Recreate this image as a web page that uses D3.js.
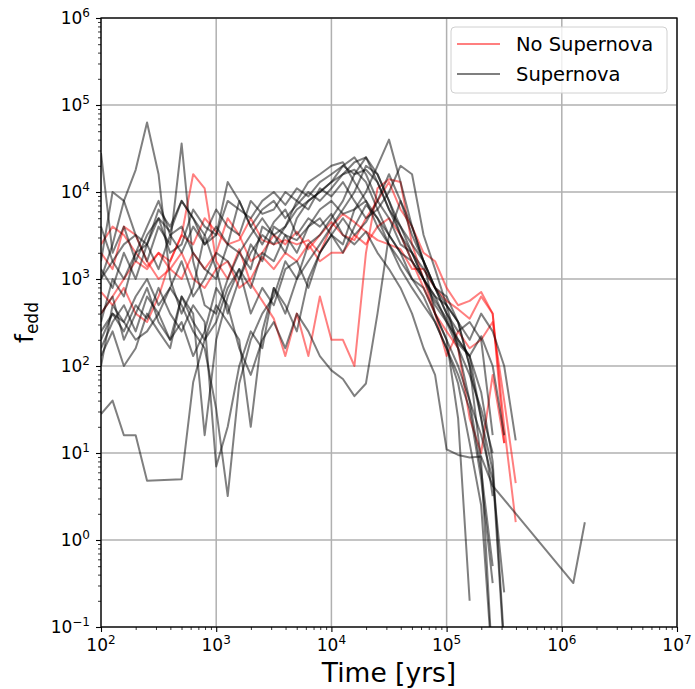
<!DOCTYPE html>
<html>
<head>
<meta charset="utf-8">
<script src="https://cdn.jsdelivr.net/npm/d3@7"></script>
<style>
  body { margin: 0; background: #fff; }
  svg { font-family: "DejaVu Sans", sans-serif; }
</style>
</head>
<body>
<div id="chart-area"></div>
<script>
// shared time grid (yrs)
var times = [100,126,158,200,251,316,398,501,631,794,1000,1259,1585,1995,2512,3162,3981,5012,6310,7943,
  10000,12589,15849,19953,25119,31623,39811,50119,63096,79433,100000,125893,158489,199526,251189,316228,398107,
  1258925,1584893];

// f_edd, runs without supernova (red)
var noSnA = [2500,4000,3200,2000,1400,2000,1600,3200,2500,5000,3500,2500,2800,5000,2800,2500,2800,2500,2800,2000,4000,5600,4500,3500,2800,2500,2200,1300,1300,790,560,450,350,630,400,20,1.6];
var noSnB = [710,500,790,400,320,630,1600,3200,1.6e4,1.1e4,1600,1000,2200,890,560,350,130,400,130,630,200,200,100,2000,1.1e4,1.4e4,1.3e4,2500,1000,400,130,250,160,200,320,40,4.5];
var noSnC = [400,630,1000,1600,1300,2000,1300,1000,2000,1300,2000,5000,3200,1600,2000,3200,2500,3500,2200,3200,4500,3200,2800,5000,7900,1.3e4,6300,4000,2000,1600,790,500,560,710,400,13];
var noSnD = [2000,1300,4000,3200,1600,1000,1300,2000,1000,790,1300,1600,790,1000,1800,1300,2000,1600,2500,1600,2000,2000,3200,2500,4000,5000,3200,1600,790,400,250,160,25,10,79,13];

// f_edd, runs with supernova (black)
var sn1 = [2.8e4,2000,4000,1600,3200,5000,2000,2500,6300,4000,3200,7900,6300,5000,7900,1e4,7100,1.1e4,8900,1.3e4,1.6e4,2e4,1.6e4,1.8e4,1.3e4,6300,4000,2000,1000,500,320,160,40,6.3,0.5];
var sn2 = [1000,2500,7900,1.8e4,6.3e4,1.6e4,1000,400,790,3200,1300,400,1000,2000,3200,2500,4000,6300,7900,1e4,1.3e4,2e4,2.5e4,1.6e4,7900,5000,2500,2000,1000,630,500,320,100,8,0.032];
var sn3 = [1000,1600,2500,3200,1600,4000,2500,3.6e4,1600,500,400,1000,2000,1300,4000,3200,2000,5000,7900,1e4,1.3e4,1.6e4,1.8e4,1.3e4,6300,3200,2000,1000,790,400,200,100,40,16,5,0.25];
var sn4 = [28,40,16,16,4.8,null,null,5,65,200,320,790,1300,790,2000,1600,3200,2800,4000,6300,7900,5600,6300,7900,4000,2500,1600,1000,630,320,160,63,13,2.5,0.032];
var sn5 = [250,400,320,200,250,400,790,500,250,160,32,3.2,63,200,400,630,1600,1000,2500,3200,5000,7900,1.6e4,2.5e4,1.3e4,6300,3200,2000,1300,790,400,250,320,200,16];
var sn6 = [160,320,500,250,630,400,200,320,130,250,790,500,160,79,200,320,160,400,250,130,89,71,45,63,400,3200,7900,4000,1600,790,400,200,130,25,3.2];
var sn7 = [400,630,200,400,790,320,200,630,400,16,200,630,1300,400,790,500,1300,1600,790,2000,3200,2000,4000,7100,5000,2500,1300,790,500,320,160,79,32,5,0.32];
var sn8 = [4000,1600,1000,2000,4000,7900,3200,4000,2000,1300,1000,2500,7900,4000,2500,4500,6300,3200,5000,4000,5600,3200,2500,3500,2000,1300,790,400,160,79,11,9.5,8.9,9.1,4.2,null,null,0.32,1.6];
var sn9 = [100,500,320,630,1000,500,790,1600,630,1000,2000,1600,1000,2500,1600,4000,3200,2000,4000,5000,3200,2500,6300,1e4,2e4,4e4,1.3e4,4000,1600,790,500,160,79,32,10];
var sn10 = [320,1000,630,2000,2500,1300,3200,2000,4000,2500,4000,2500,2000,3200,5000,3200,4000,7900,6300,1.1e4,8900,1.3e4,7900,5000,6300,1e4,2e4,1.6e4,3200,1300,500,320,200,400,250,100,14];
var sn11 = [1300,790,2000,1000,2500,6300,4000,7900,5000,3200,6300,4000,3200,7900,5600,6300,1e4,7900,1.3e4,1.6e4,2e4,2.2e4,1.3e4,7900,5000,3200,2000,1600,1000,630,320,200,130,220,100,16];
var sn12 = [200,400,250,500,350,790,400,250,500,320,7,20,100,250,160,790,400,1000,1600,2500,4000,6300,1e4,2e4,1.6e4,7900,4000,2500,1600,400,200,25,0.2];
var sn13 = [130,250,100,160,400,250,160,630,320,200,500,320,200,20,250,790,500,250,1000,2000,3200,5000,3200,4500,7900,1.6e4,7900,3200,1600,790,630,320,100,25,6.3,0.05];
var sn14 = [1600,1e4,7900,3200,2500,5000,3500,7900,5000,2500,3200,1.3e4,7900,4000,6300,7900,5000,7100,1e4,7900,1.1e4,1.6e4,2.2e4,2.5e4,1.6e4,7900,3200,1600,1000,560,350,180,130,50,8,0.063];

var noSnRuns = [noSnA, noSnB, noSnC, noSnD];
var snRuns = [sn1, sn2, sn3, sn4, sn5, sn6, sn7, sn8, sn9, sn10, sn11, sn12, sn13, sn14];

var xExps = [2, 3, 4, 5, 6, 7];
var yExps = [-1, 0, 1, 2, 3, 4, 5, 6];
var legendLabels = ['No Supernova', 'Supernova'];

var redLine = 'rgba(255,0,0,0.5)';
var blackLine = 'rgba(0,0,0,0.5)';

var margin = {top: 18, left: 101, right: 18, bottom: 62};
var width = 695 - margin.left - margin.right;
var height = 689 - margin.top - margin.bottom;

var svg = d3.select('#chart-area')
  .append('svg')
    .attr('width', 695)
    .attr('height', 689)
  .append('g')
    .attr('transform', 'translate(' + margin.left + ',' + margin.top + ')');

var x = d3.scaleLog().domain([1e2, 1e7]).range([0, width]);
var y = d3.scaleLog().domain([1e-1, 1e6]).range([height, 0]);

var xMajor = xExps.map(function(e){ return Math.pow(10, e); });
var yMajor = yExps.map(function(e){ return Math.pow(10, e); });
var xMinor = [], yMinor = [];
xExps.slice(0, -1).forEach(function(e){ for (var m = 2; m < 10; m++) xMinor.push(m * Math.pow(10, e)); });
yExps.slice(0, -1).forEach(function(e){ for (var m = 2; m < 10; m++) yMinor.push(m * Math.pow(10, e)); });

// grid
svg.append('g').selectAll('line').data(xMajor).enter().append('line')
  .attr('x1', function(d){ return x(d); }).attr('x2', function(d){ return x(d); })
  .attr('y1', 0).attr('y2', height)
  .attr('stroke', '#b0b0b0').attr('stroke-width', 1.5);
svg.append('g').selectAll('line').data(yMajor).enter().append('line')
  .attr('y1', function(d){ return y(d); }).attr('y2', function(d){ return y(d); })
  .attr('x1', 0).attr('x2', width)
  .attr('stroke', '#b0b0b0').attr('stroke-width', 1.5);

// clip
svg.append('clipPath').attr('id', 'clip')
  .append('rect').attr('width', width).attr('height', height);

var line = d3.line()
  .x(function(d){ return x(d.t); })
  .y(function(d){ return y(d.v); });

function toPoints(vals) {
  var pts = [];
  vals.forEach(function(v, i){ if (v != null) pts.push({t: times[i], v: v}); });
  return pts;
}

var plot = svg.append('g').attr('clip-path', 'url(#clip)');
noSnRuns.forEach(function(run){
  plot.append('path').datum(toPoints(run))
    .attr('d', line).attr('fill', 'none')
    .attr('stroke', redLine).attr('stroke-width', 2).attr('stroke-linejoin', 'round');
});
snRuns.forEach(function(run){
  plot.append('path').datum(toPoints(run))
    .attr('d', line).attr('fill', 'none')
    .attr('stroke', blackLine).attr('stroke-width', 2).attr('stroke-linejoin', 'round');
});

// axes (ticks only, labels drawn below)
function styleAxis(g, w) {
  g.select('.domain').remove();
  g.selectAll('.tick line').attr('stroke', '#000').attr('stroke-width', w);
}
svg.append('g').attr('transform', 'translate(0,' + height + ')')
  .call(d3.axisBottom(x).tickValues(xMajor).tickSize(5).tickFormat(''))
  .call(styleAxis, 1.1);
svg.append('g').attr('transform', 'translate(0,' + height + ')')
  .call(d3.axisBottom(x).tickValues(xMinor).tickSize(3).tickFormat(''))
  .call(styleAxis, 0.8);
svg.append('g')
  .call(d3.axisLeft(y).tickValues(yMajor).tickSize(5).tickFormat(''))
  .call(styleAxis, 1.1);
svg.append('g')
  .call(d3.axisLeft(y).tickValues(yMinor).tickSize(3).tickFormat(''))
  .call(styleAxis, 0.8);

// frame
svg.append('rect').attr('width', width).attr('height', height)
  .attr('fill', 'none').attr('stroke', '#000').attr('stroke-width', 1.3);

function expText(e) { return e < 0 ? '\u2212' + Math.abs(e) : '' + e; }

// x tick labels
xExps.forEach(function(e){
  var t = svg.append('text')
    .attr('x', x(Math.pow(10, e)))
    .attr('y', height + 24)
    .attr('text-anchor', 'middle')
    .attr('font-size', '17px');
  t.append('tspan').text('10');
  t.append('tspan').attr('font-size', '12px').attr('dy', '-7').text(expText(e));
});
// y tick labels
yExps.forEach(function(e){
  var t = svg.append('text')
    .attr('x', -11)
    .attr('y', y(Math.pow(10, e)) + 6)
    .attr('text-anchor', 'end')
    .attr('font-size', '17px');
  t.append('tspan').text('10');
  t.append('tspan').attr('font-size', '12px').attr('dy', '-7').text(expText(e));
});

// axis labels
svg.append('text')
  .attr('x', width / 2)
  .attr('y', height + 55)
  .attr('text-anchor', 'middle')
  .attr('font-size', '26.5px')
  .text('Time [yrs]');

var yLabel = svg.append('text')
  .attr('transform', 'translate(' + (33 - margin.left) + ',' + (height / 2) + ') rotate(-90)')
  .attr('text-anchor', 'middle')
  .attr('font-size', '25px');
yLabel.append('tspan').text('f');
yLabel.append('tspan').attr('font-size', '17px').attr('dy', '5').text('edd');

// legend
var legend = svg.append('g')
  .attr('transform', 'translate(' + (451 - margin.left) + ',' + (27 - margin.top) + ')');
legend.append('rect')
  .attr('width', 216).attr('height', 66).attr('rx', 4)
  .attr('fill', 'rgba(255,255,255,0.8)').attr('stroke', '#d0d0d0').attr('stroke-width', 1);
legendLabels.forEach(function(label, i){
  var row = legend.append('g').attr('transform', 'translate(0,' + (17 + i * 30) + ')');
  row.append('line')
    .attr('x1', 6).attr('x2', 49).attr('y1', 0).attr('y2', 0)
    .attr('stroke', i === 0 ? redLine : blackLine).attr('stroke-width', 2);
  row.append('text')
    .attr('x', 65).attr('y', 7)
    .attr('font-size', '19.5px')
    .text(label);
});
</script>
</body>
</html>
